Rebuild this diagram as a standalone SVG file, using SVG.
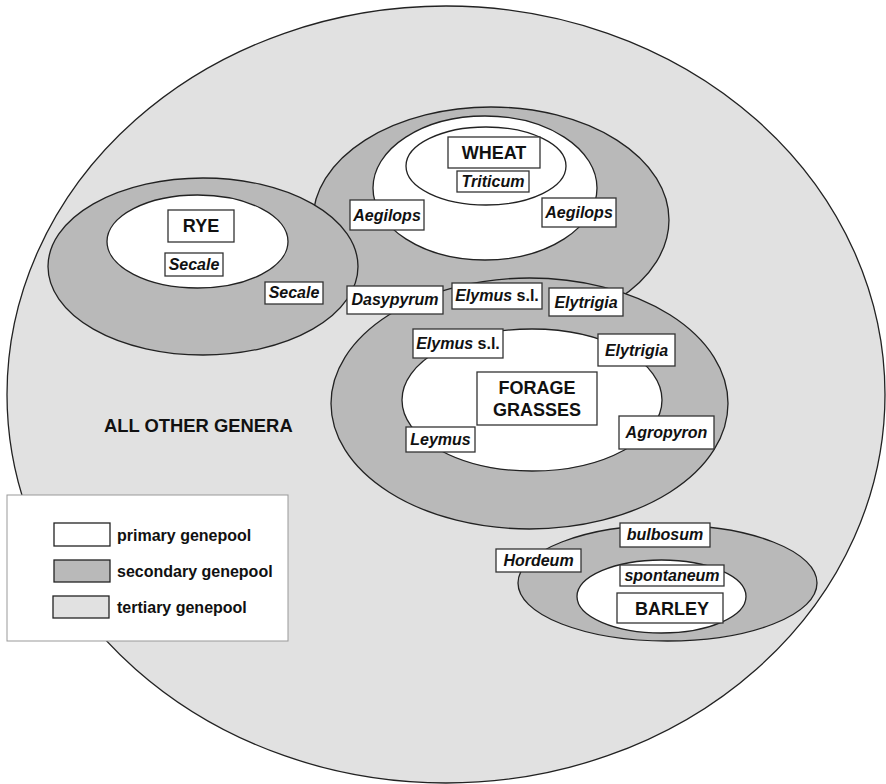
<svg xmlns="http://www.w3.org/2000/svg" width="886" height="784" viewBox="0 0 886 784">
<style>
.e{stroke:#222;stroke-width:1.3}
.t3{fill:#e1e1e1}
.t2{fill:#b9b9b9}
.t1{fill:#fff}
.b{fill:#fff;stroke:#333;stroke-width:1.3}
.lab{font-family:"Liberation Sans",Arial,sans-serif;font-weight:bold;font-style:italic;font-size:16px;fill:#111;text-anchor:middle}
.big{font-family:"Liberation Sans",Arial,sans-serif;font-weight:bold;font-size:18px;fill:#111;text-anchor:middle}
.leg{font-family:"Liberation Sans",Arial,sans-serif;font-weight:bold;font-size:16px;fill:#111}
.n{font-style:normal}
</style>
<rect width="886" height="784" fill="#fff"/>
<g id="tertiary">
<ellipse class="e t3" cx="446" cy="394.5" rx="439" ry="388.5"/>
<text class="big" x="104" y="432" style="text-anchor:start;font-size:18.4px">ALL OTHER GENERA</text>
</g>
<g id="wheat">
<ellipse class="e t2" cx="491" cy="220" rx="178" ry="113"/>
<ellipse class="e t1" cx="485" cy="188" rx="112" ry="72"/>
<ellipse class="e t1" cx="486" cy="166" rx="80" ry="39"/>
</g>
<g id="rye">
<ellipse class="e t2" cx="203" cy="266.5" rx="155" ry="88.5"/>
<ellipse class="e t1" cx="197.5" cy="241.5" rx="90.5" ry="46.5"/>
</g>
<g id="forage">
<ellipse class="e t2" cx="529.5" cy="403.5" rx="198.5" ry="125.5"/>
<ellipse class="e t1" cx="532" cy="400" rx="130" ry="71"/>
</g>
<g id="barley">
<ellipse class="e t2" cx="667.5" cy="583" rx="149.5" ry="58"/>
<ellipse class="e t1" cx="661.5" cy="596.5" rx="84.5" ry="36.5"/>
</g>
<g id="wheat-labels">
<rect class="b" x="448" y="137" width="92" height="31"/>
<text class="big" x="494" y="159">WHEAT</text>
<rect class="b" x="457" y="171" width="72" height="21"/>
<text class="lab" x="493" y="187">Triticum</text>
<rect class="b" x="350" y="200" width="74" height="30"/>
<text class="lab" x="387" y="221">Aegilops</text>
<rect class="b" x="542" y="198" width="74" height="29"/>
<text class="lab" x="579" y="218">Aegilops</text>
</g>
<g id="rye-labels">
<rect class="b" x="168" y="210" width="66" height="32"/>
<text class="big" x="201" y="232">RYE</text>
<rect class="b" x="165" y="253" width="58" height="23"/>
<text class="lab" x="194" y="270">Secale</text>
<rect class="b" x="265" y="282" width="58" height="22"/>
<text class="lab" x="294" y="298">Secale</text>
</g>
<g id="forage-labels">
<rect class="b" x="347" y="286" width="96" height="28"/>
<text class="lab" x="395" y="305">Dasypyrum</text>
<rect class="b" x="452" y="283" width="90" height="26"/>
<text class="lab" x="497" y="301">Elymus<tspan class="n"> s.l.</tspan></text>
<rect class="b" x="549" y="288" width="74" height="28"/>
<text class="lab" x="586" y="308">Elytrigia</text>
<rect class="b" x="413" y="329" width="90" height="29"/>
<text class="lab" x="458" y="349">Elymus<tspan class="n"> s.l.</tspan></text>
<rect class="b" x="598" y="334" width="77" height="32"/>
<text class="lab" x="636.5" y="356">Elytrigia</text>
<rect class="b" x="477" y="372" width="120" height="53"/>
<text class="big" x="537" y="394">FORAGE</text>
<text class="big" x="537" y="416">GRASSES</text>
<rect class="b" x="406" y="427" width="69" height="25"/>
<text class="lab" x="440.5" y="445">Leymus</text>
<rect class="b" x="619" y="416" width="95" height="33"/>
<text class="lab" x="666.5" y="438">Agropyron</text>
</g>
<g id="barley-labels">
<rect class="b" x="620" y="523" width="90" height="24"/>
<text class="lab" x="665" y="540">bulbosum</text>
<rect class="b" x="496" y="549" width="85" height="23"/>
<text class="lab" x="538.5" y="566">Hordeum</text>
<rect class="b" x="620" y="565" width="104" height="21"/>
<text class="lab" x="672" y="581">spontaneum</text>
<rect class="b" x="617" y="593" width="106" height="30"/>
<text class="big" x="672" y="615">BARLEY</text>
</g>
<g id="legend">
<rect x="7" y="495" width="281" height="146" fill="#fff" stroke="#999" stroke-width="1"/>
<rect class="e t1" x="54" y="523" width="56" height="23"/>
<text class="leg" x="117" y="541">primary genepool</text>
<rect class="e t2" x="54" y="560" width="56" height="22"/>
<text class="leg" x="117" y="577">secondary genepool</text>
<rect class="e t3" x="53" y="596" width="56" height="22"/>
<text class="leg" x="117" y="613">tertiary genepool</text>
</g>
<g id="connectors"></g>
</svg>
